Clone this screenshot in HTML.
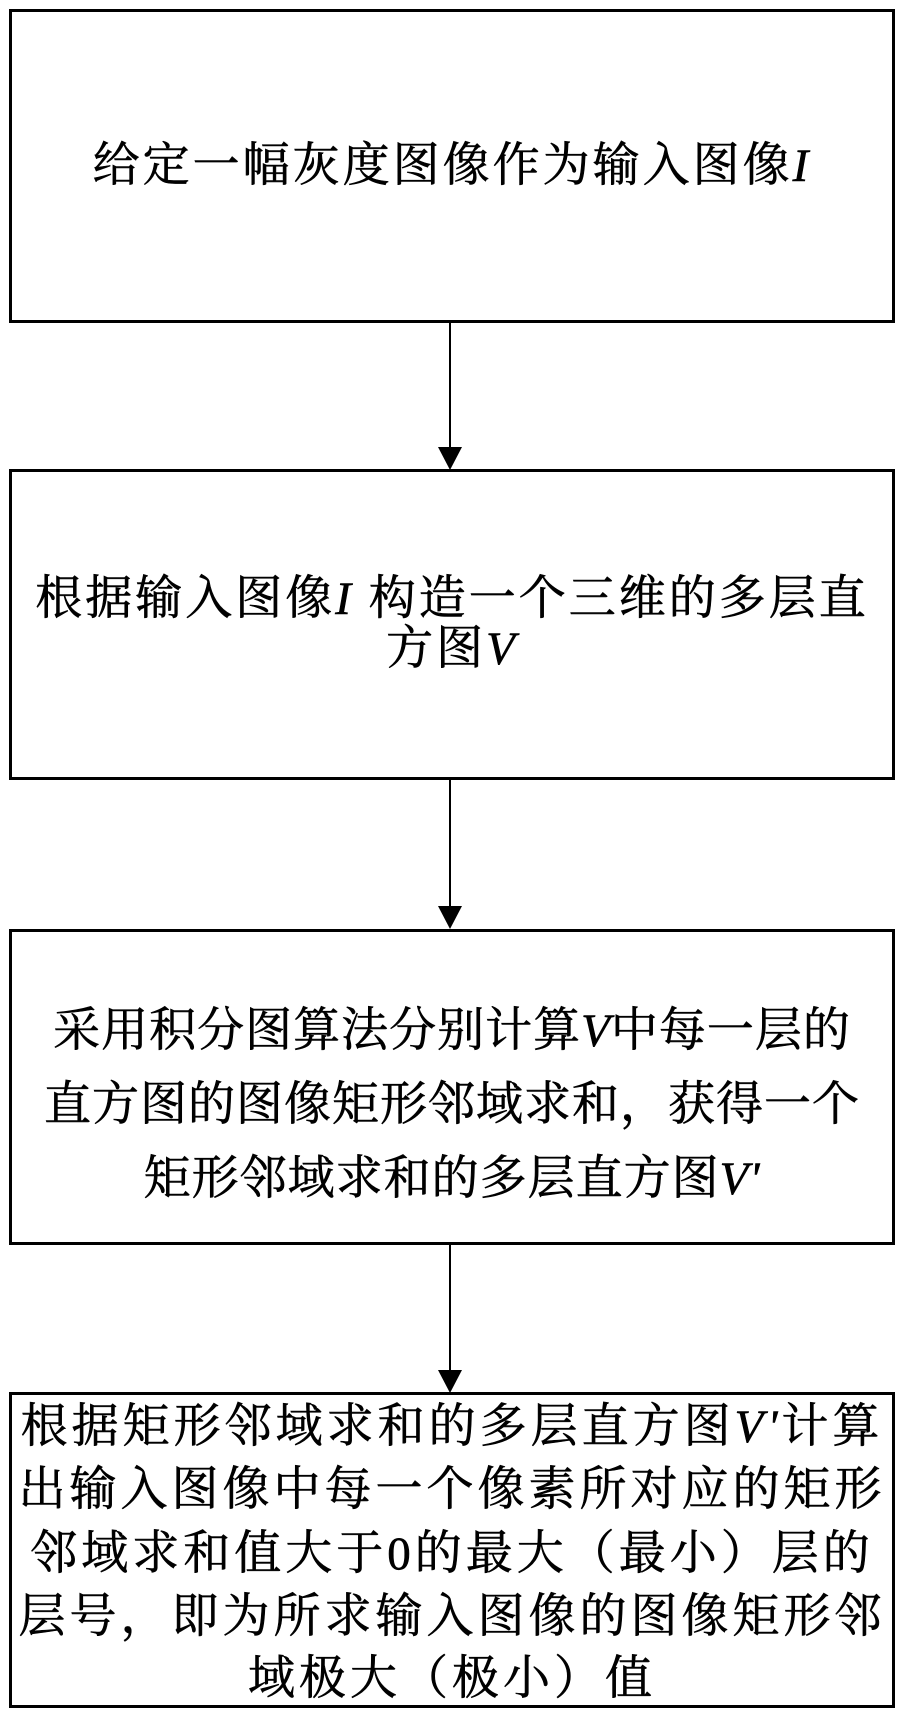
<!DOCTYPE html>
<html><head><meta charset="utf-8"><style>
body{margin:0;width:904px;height:1717px;background:#fff;position:relative;overflow:hidden;font-family:"Liberation Serif","Noto Serif CJK SC",serif;}
.box{position:absolute;left:9px;width:886px;border:3px solid #000;box-sizing:border-box;}
.t{position:absolute;left:0;width:904px;text-align:center;font-size:47px;line-height:63px;letter-spacing:4px;white-space:nowrap;color:#000;-webkit-text-stroke:0.6px #000;}
i{font-family:"Liberation Serif",serif;}
.ln{position:absolute;left:449px;width:2px;background:#000;}
.ah{position:absolute;left:438px;width:0;height:0;border-left:12px solid transparent;border-right:12px solid transparent;border-top:23px solid #000;}
</style></head><body>
<div class="box" style="top:9px;height:314px"></div>
<div class="box" style="top:469px;height:311px"></div>
<div class="box" style="top:929px;height:316px"></div>
<div class="box" style="top:1392px;height:316px"></div>

<div class="ln" style="top:322px;height:128px"></div><div class="ah" style="top:447px"></div>
<div class="ln" style="top:779px;height:130px"></div><div class="ah" style="top:906px"></div>
<div class="ln" style="top:1244px;height:128px"></div><div class="ah" style="top:1370px"></div>

<div class="t" style="top:135px;letter-spacing:3px">给定一幅灰度图像作为输入图像<i>I</i></div>

<div class="t" style="top:568px;letter-spacing:3px">根据输入图像<i>I</i> 构造一个三维的多层直</div>
<div class="t" style="top:618px;letter-spacing:3px">方图<i>V</i></div>

<div class="t" style="top:1000px;letter-spacing:1px">采用积分图算法分别计算<i>V</i>中每一层的</div>
<div class="t" style="top:1074px;letter-spacing:1px">直方图的图像矩形邻域求和，获得一个</div>
<div class="t" style="top:1148px;letter-spacing:1px">矩形邻域求和的多层直方图<i>V'</i></div>

<div class="t" style="top:1396px">根据矩形邻域求和的多层直方图<i>V'</i>计算</div>
<div class="t" style="top:1459px">出输入图像中每一个像素所对应的矩形</div>
<div class="t" style="top:1523px">邻域求和值大于0的最大（最小）层的</div>
<div class="t" style="top:1586px">层号，即为所求输入图像的图像矩形邻</div>
<div class="t" style="top:1648px">域极大（极小）值</div>
</body></html>
